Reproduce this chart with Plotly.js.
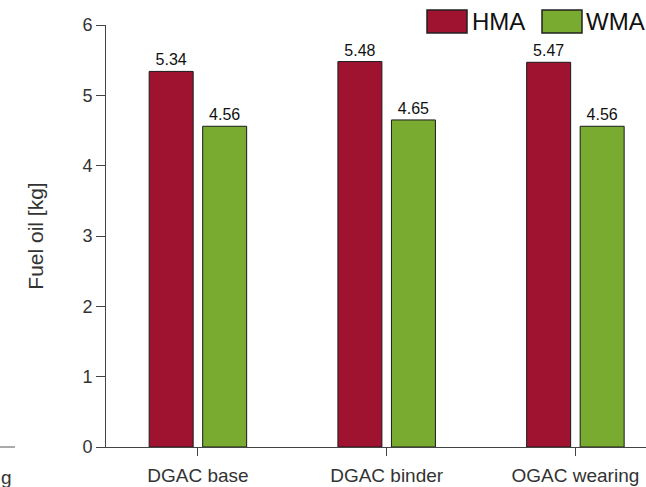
<!DOCTYPE html>
<html>
<head>
<meta charset="utf-8">
<script src="https://cdn.plot.ly/plotly-3.0.1.min.js"></script>
<style>html,body{margin:0;padding:0;background:#fff;}#chart{width:646px;height:487px;}</style>
</head>
<body>
<div id="chart"></div>
<script>
const categories = ["DGAC base", "DGAC binder", "OGAC wearing"];
const hmaValues = [5.34, 5.48, 5.47];
const wmaValues = [4.56, 4.65, 4.56];
const seriesNames = ["HMA", "WMA"];
const yTicks = [0, 1, 2, 3, 4, 5, 6];

const FONT = "Liberation Sans, Arial, Helvetica, sans-serif";
const RED = "#9F1330";
const GREEN = "#78AB30";

function barTrace(name, vals, color) {
  return {
    type: "bar", name: name, x: categories, y: vals,
    marker: {color: color, line: {color: "#1a1a1a", width: 1}},
    text: vals.map(v => v.toFixed(2)), textposition: "outside",
    textfont: {family: FONT, size: 16, color: "#111"},
    cliponaxis: false, showlegend: false, hoverinfo: "x+y"
  };
}

const data = [barTrace(seriesNames[0], hmaValues, RED), barTrace(seriesNames[1], wmaValues, GREEN)];

// paper coords helper: plot area px x 106..646, y 25..447
const px = x => (x - 106) / 540;
const py = y => (447 - y) / 422;

const layout = {
  width: 646, height: 487,
  margin: {l: 106, r: 0, t: 25, b: 40, pad: 0},
  paper_bgcolor: "#fff", plot_bgcolor: "#fff",
  barmode: "group", bargap: 0.433, bargroupgap: 0.178,
  font: {family: FONT, color: "#333"},
  xaxis: {
    type: "category", range: [-0.487, 2.374],
    showline: true, linecolor: "#444", linewidth: 1,
    ticks: "outside", ticklen: 8, tickcolor: "#444",
    ticklabelstandoff: 3,
    tickfont: {family: FONT, size: 19, color: "#333"},
    showgrid: false, zeroline: false, fixedrange: true
  },
  yaxis: {
    range: [0, 6], tickvals: yTicks, ticktext: yTicks.map(String),
    showline: true, linecolor: "#444", linewidth: 1,
    ticks: "outside", ticklen: 9, tickcolor: "#444",
    tickfont: {family: FONT, size: 18, color: "#333"},
    showgrid: false, zeroline: false, fixedrange: true,
    title: {text: "Fuel oil [kg]", font: {family: FONT, size: 21, color: "#333"}, standoff: 33}
  },
  shapes: [
    {type: "rect", xref: "paper", yref: "paper", x0: px(427), x1: px(467), y0: py(33), y1: py(10),
     fillcolor: RED, line: {color: "#222", width: 1.5}},
    {type: "rect", xref: "paper", yref: "paper", x0: px(542), x1: px(582), y0: py(33), y1: py(10),
     fillcolor: GREEN, line: {color: "#222", width: 1.5}},
    {type: "line", xref: "paper", yref: "paper", x0: px(0), x1: px(15), y0: py(447), y1: py(447),
     line: {color: "#555", width: 1}}
  ],
  annotations: [
    {xref: "paper", yref: "paper", x: px(470), y: py(22), xanchor: "left", yanchor: "middle",
     text: seriesNames[0], showarrow: false, font: {family: FONT, size: 24, color: "#111"}},
    {xref: "paper", yref: "paper", x: px(584), y: py(22), xanchor: "left", yanchor: "middle",
     text: seriesNames[1], showarrow: false, font: {family: FONT, size: 24, color: "#111"}},
    {xref: "paper", yref: "paper", x: px(-1), y: py(477), xanchor: "left", yanchor: "middle",
     text: "g", showarrow: false, font: {family: FONT, size: 19, color: "#333"}}
  ]
};

Plotly.newPlot("chart", data, layout, {displayModeBar: false, staticPlot: true});
</script>
</body>
</html>
